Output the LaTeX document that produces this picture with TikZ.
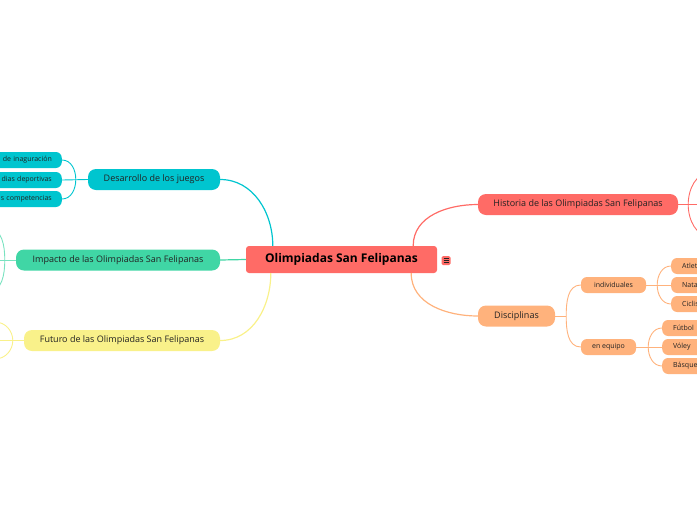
\documentclass[tikz,border=0pt]{standalone}
\usepackage{fontspec}
\setmainfont{Open Sans}
\definecolor{mmred}{HTML}{FF6B66}
\definecolor{mmcyan}{HTML}{00C5CF}
\definecolor{mmgreen}{HTML}{40D6A5}
\definecolor{mmyellow}{HTML}{F9F18A}
\definecolor{mmorange}{HTML}{FFB27C}
\definecolor{mmtext}{HTML}{222222}

\begin{document}
\begin{tikzpicture}[x=1pt, y=1pt,
    branch/.style={rounded corners=8pt, inner sep=0pt, minimum height=21pt, font=\fontsize{9}{10}\selectfont, text=mmtext},
    subtopic/.style={rounded corners=6pt, inner sep=0pt, minimum height=16pt, font=\fontsize{7}{8}\selectfont, text=mmtext},
    leafright/.style={subtopic, anchor=west, text width=60pt, align=left, inner xsep=11pt},
    leafleft/.style={subtopic, anchor=east, text width=70pt, align=right, inner xsep=10pt},
    link/.style={line width=1.2pt},
    twig/.style={line width=0.9pt}]
        \useasboundingbox (0,0) rectangle (697,-520);
        \clip (0,0) rectangle (697,-520);

        % Central topic
        \node[fill=mmred, rounded corners=3pt, minimum width=191pt, minimum height=27pt, inner sep=0pt,
              font=\fontsize{12}{14}\selectfont\bfseries] (root) at (341.5,-259.5) {Olimpiadas San Felipanas};
        \node[fill=mmred, rounded corners=1.5pt, minimum size=9pt, inner sep=0pt] (menu) at (446,-260.5) {};
        \foreach \dy in {-2,0,2}
            \draw[mmtext, line width=0.6pt] ([xshift=-2.5pt, yshift=\dy pt]menu.center) -- ++(5pt,0);

        % Main branches
        \node[branch, fill=mmcyan, minimum width=132pt] (desarrollo) at (154,-179.5) {Desarrollo de los juegos};
        \node[branch, fill=mmgreen, minimum width=204pt] (impacto) at (118,-260) {Impacto de las Olimpiadas San Felipanas};
        \node[branch, fill=mmyellow, minimum width=196pt] (futuro) at (122,-340.5) {Futuro de las Olimpiadas San Felipanas};
        \node[branch, fill=mmred, minimum width=200pt] (historia) at (578,-204.5) {Historia de las Olimpiadas San Felipanas};
        \node[branch, fill=mmorange, minimum width=77pt] (disciplinas) at (516.5,-316) {Disciplinas};

        % Sub topics
        \node[subtopic, fill=mmorange, minimum width=65pt] (indiv) at (613.5,-285) {individuales};
        \node[subtopic, fill=mmorange, minimum width=55pt] (equipo) at (608.5,-347) {en equipo};
        \node[leafright, fill=mmorange] (atletismo) at (671,-266) {Atletismo};
        \node[leafright, fill=mmorange] (natacion) at (671,-285) {Natación};
        \node[leafright, fill=mmorange] (ciclismo) at (671,-304) {Ciclismo};
        \node[leafright, fill=mmorange] (futbol) at (662,-328) {Fútbol};
        \node[leafright, fill=mmorange] (voley) at (662,-347) {Vóley};
        \node[leafright, fill=mmorange] (basquet) at (662,-366) {Básquetbol};
        \node[leafleft, fill=mmcyan] (inaug) at (62,-160) {de inaguración};
        \node[leafleft, fill=mmcyan] (deport) at (62,-180) {dias deportivas};
        \node[leafleft, fill=mmcyan] (compet) at (62,-199) {s competencias};

        % Root connectors
        \draw[link, mmcyan] (desarrollo.east) to[out=0, in=90] ([xshift=27pt]root.north west);
        \draw[link, mmgreen] (impacto.east) -- (root.west);
        \draw[link, mmyellow] (futuro.east) to[out=0, in=-90] ([xshift=25pt]root.south west);
        \draw[link, mmred] ([xshift=-24pt]root.north east) to[out=90, in=180] (historia.west);
        \draw[link, mmorange] ([xshift=-26pt]root.south east) to[out=-90, in=180] (disciplinas.west);

        % Junctions
        \coordinate (dj) at ([xshift=-12pt]desarrollo.west);
        \coordinate (discj) at ([xshift=11pt]disciplinas.east);
        \coordinate (ij) at ([xshift=11pt]indiv.east);
        \coordinate (ej) at ([xshift=12pt]equipo.east);
        \coordinate (hj) at ([xshift=10pt]historia.east);
        \coordinate (hmid) at (712,-204.5);
        \coordinate (hup) at (712,-172);
        \coordinate (hdown) at (712,-237);
        \coordinate (impj) at ([xshift=-11pt]impacto.west);
        \coordinate (impmid) at (-20,-260);
        \coordinate (impup) at (-12,-228);
        \coordinate (impdown) at (-12,-292);
        \coordinate (fj) at ([xshift=-11pt]futuro.west);
        \coordinate (fmid) at (-20,-340.5);
        \coordinate (fup) at (-5,-322);
        \coordinate (fdown) at (-5,-359);

        % Desarrollo de los juegos
        \draw[twig, mmcyan] (desarrollo.west) -- (deport.east);
        \draw[twig, mmcyan] (dj) to[out=90, in=0] (inaug.east);
        \draw[twig, mmcyan] (dj) to[out=-90, in=0] (compet.east);

        % Impacto / Futuro (children out of view)
        \draw[twig, mmgreen!70] (impacto.west) -- (impmid);
        \draw[twig, mmgreen!70] (impj) to[out=90, in=0] (impup);
        \draw[twig, mmgreen!70] (impj) to[out=-90, in=0] (impdown);
        \draw[twig, mmyellow] (futuro.west) -- (fmid);
        \draw[twig, mmyellow] (fj) to[out=90, in=0] (fup);
        \draw[twig, mmyellow] (fj) to[out=-90, in=0] (fdown);

        % Historia (children out of view)
        \draw[twig, mmred] (historia.east) -- (hmid);
        \draw[twig, mmred] (hj) to[out=90, in=180] (hup);
        \draw[twig, mmred] (hj) to[out=-90, in=180] (hdown);

        % Disciplinas
        \draw[twig, mmorange] (disciplinas.east) -- (discj);
        \draw[twig, mmorange] (discj) to[out=90, in=180] (indiv.west);
        \draw[twig, mmorange] (discj) to[out=-90, in=180] (equipo.west);
        \draw[twig, mmorange] (indiv.east) -- (natacion.west);
        \draw[twig, mmorange] (ij) to[out=90, in=180] (atletismo.west);
        \draw[twig, mmorange] (ij) to[out=-90, in=180] (ciclismo.west);
        \draw[twig, mmorange] (equipo.east) -- (voley.west);
        \draw[twig, mmorange] (ej) to[out=90, in=180] (futbol.west);
        \draw[twig, mmorange] (ej) to[out=-90, in=180] (basquet.west);
    \end{tikzpicture}
\end{document}
